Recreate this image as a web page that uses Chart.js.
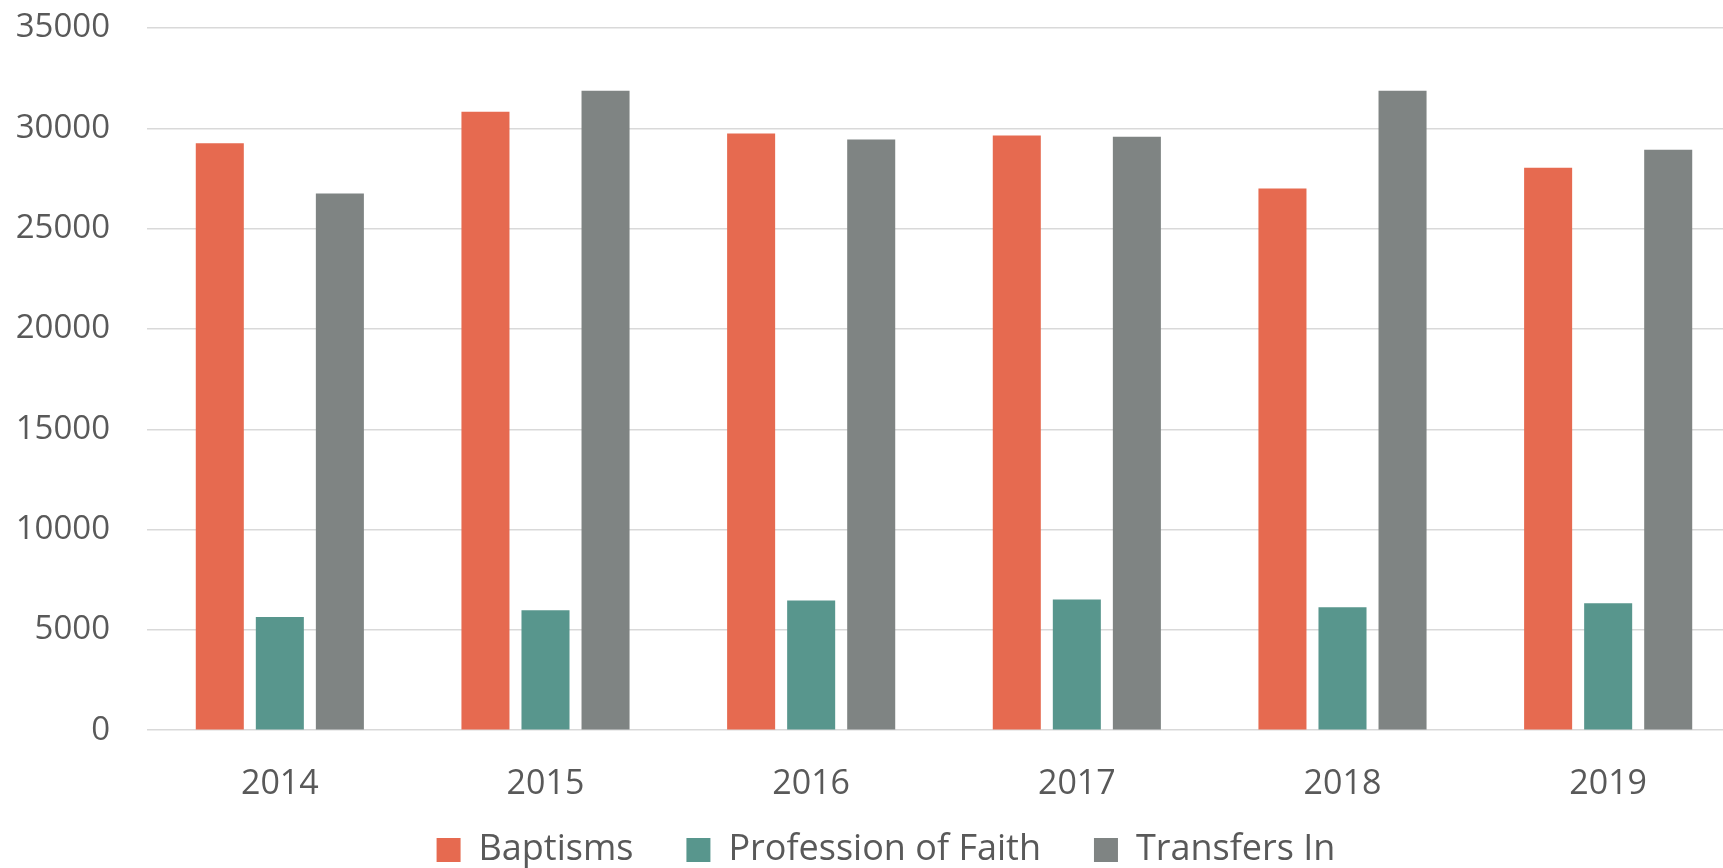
<!DOCTYPE html>
<html>
<head>
<meta charset="utf-8">
<script src="https://cdn.jsdelivr.net/npm/chart.js@4/dist/chart.umd.min.js"></script>
<style>
  html, body { margin: 0; padding: 0; background: #fff; overflow: hidden; }
  #wrap { width: 1741px; height: 868px; position: relative; }
</style>
</head>
<body>
<div id="wrap"><canvas id="chart"></canvas></div>
<script>
// Data
const years = ['2014', '2015', '2016', '2017', '2018', '2019'];
const baptisms = [29250, 30830, 29740, 29640, 27000, 28030];
const professionOfFaith = [5640, 5980, 6460, 6510, 6130, 6330];
const transfersIn = [26750, 31870, 29440, 29580, 31870, 28930];
const yTicks = [0, 5000, 10000, 15000, 20000, 25000, 30000, 35000];

const textColor = '#595959';
const fontFamily = '"Open Sans", "DejaVu Sans", sans-serif';
const Y_AXIS_WIDTH = 132;

// legend: wide gaps between items but little space above them
const LEGEND_TRIM = 70;
const LEGEND_LIFT = 60;
const LEGEND_SHIFT = 8;
const legendTweak = {
    id: 'legendTweak',
    afterInit(chart) {
        const legend = chart.legend;
        const fit = legend.fit;
        legend.fit = function () {
            fit.call(this);
            this.height -= LEGEND_TRIM;
        };
    },
    afterLayout(chart) {
        // grow the legend box upwards so its items are not clipped
        const legend = chart.legend;
        legend.top -= LEGEND_LIFT;
        legend.height += LEGEND_LIFT;
        legend.left += LEGEND_SHIFT;
        legend.right += LEGEND_SHIFT;
    }
};

const ctx = document.getElementById('chart').getContext('2d');
const chart = new Chart(ctx, {
    type: 'bar',
    data: {
        labels: years,
        datasets: [
            { label: 'Baptisms', data: baptisms, backgroundColor: '#E66A50' },
            { label: 'Profession of Faith', data: professionOfFaith, backgroundColor: '#58968D' },
            { label: 'Transfers In', data: transfersIn, backgroundColor: '#7F8483' }
        ]
    },
    plugins: [legendTweak],
    options: {
        responsive: true,
        maintainAspectRatio: false,
        animation: false,
        categoryPercentage: 0.678,
        barPercentage: 0.8,
        layout: { padding: { left: 15, right: 0, top: 28, bottom: 0 } },
        plugins: {
            tooltip: { enabled: false },
            legend: {
                position: 'bottom',
                labels: {
                    color: textColor,
                    font: { family: fontFamily, size: 36 },
                    boxWidth: 24,
                    boxHeight: 24,
                    padding: 53
                }
            }
        },
        scales: {
            x: {
                afterFit: axis => { axis.paddingLeft = 0; axis.paddingRight = 0; },
                grid: { display: false, drawTicks: false },
                border: { display: false },
                ticks: {
                    color: textColor,
                    font: { family: fontFamily, size: 34 },
                    padding: 34
                }
            },
            y: {
                min: 0,
                max: 35000,
                afterBuildTicks: axis => { axis.ticks = yTicks.map(v => ({ value: v })); },
                afterFit: axis => {
                    axis.paddingTop = 0;
                    axis.paddingBottom = 0;
                    axis.width = Y_AXIS_WIDTH;
                },
                grid: { color: '#d9d9d9', lineWidth: 1.5, drawTicks: false },
                border: { display: false },
                ticks: {
                    color: textColor,
                    font: { family: fontFamily, size: 33 },
                    padding: 37,
                    callback: v => String(v)
                }
            }
        }
    }
});
</script>
</body>
</html>
